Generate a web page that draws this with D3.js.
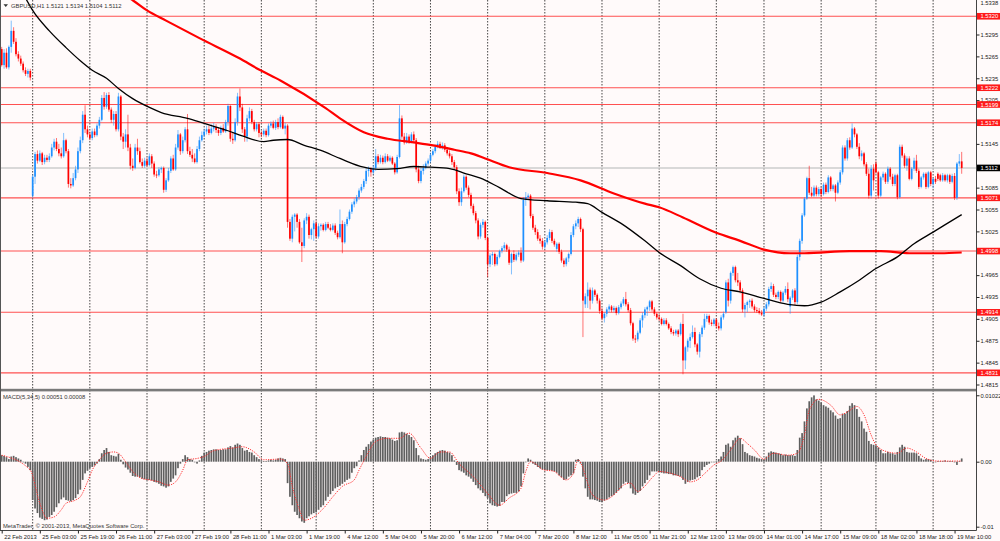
<!DOCTYPE html>
<html>
<head>
<meta charset="utf-8">
<script src="https://cdnjs.cloudflare.com/ajax/libs/d3/7.8.5/d3.min.js"></script>
<style>
    html, body { margin: 0; padding: 0; background: #fffafa; }
    svg { display: block; }
    text { font-family: "Liberation Sans", Arial, sans-serif; font-size: 5.8px; }
</style>
</head>
<body>
<script>
var width = 1000;
var height = 541;
var plotRight = 976.5;
var priceBottom = 388.5;
var macdTop = 391.5;
var macdBottom = 530.5;

// GBPUSD H1 candles
var opens = [
    1.5275,1.5253,1.5270,1.5250,1.5278,1.5300,1.5285,1.5268,1.5262,1.5255,
    1.5246,1.5241,1.5245,1.5074,1.5100,1.5131,1.5122,1.5132,1.5120,1.5126,
    1.5123,1.5128,1.5140,1.5148,1.5138,1.5132,1.5128,1.5150,1.5135,1.5090,
    1.5088,1.5098,1.5110,1.5135,1.5150,1.5185,1.5165,1.5158,1.5153,1.5162,
    1.5157,1.5170,1.5178,1.5208,1.5196,1.5212,1.5192,1.5178,1.5186,1.5165,
    1.5210,1.5155,1.5148,1.5158,1.5140,1.5115,1.5112,1.5140,1.5135,1.5120,
    1.5115,1.5122,1.5116,1.5128,1.5118,1.5103,1.5102,1.5110,1.5112,1.5082,
    1.5095,1.5108,1.5125,1.5110,1.5140,1.5158,1.5135,1.5150,1.5165,1.5135,
    1.5130,1.5125,1.5120,1.5138,1.5150,1.5157,1.5162,1.5165,1.5160,1.5166,
    1.5168,1.5164,1.5160,1.5167,1.5162,1.5175,1.5197,1.5152,1.5150,1.5175,
    1.5210,1.5195,1.5165,1.5155,1.5180,1.5190,1.5175,1.5165,1.5172,1.5160,
    1.5158,1.5163,1.5157,1.5170,1.5173,1.5167,1.5175,1.5168,1.5182,1.5166,
    1.5170,1.5038,1.5015,1.5045,1.5048,1.5038,1.5010,1.5005,1.5040,1.5045,
    1.5020,1.5028,1.5036,1.5018,1.5032,1.5034,1.5027,1.5035,1.5030,1.5027,
    1.5033,1.5023,1.5017,1.5035,1.5010,1.5035,1.5042,1.5052,1.5062,1.5066,
    1.5072,1.5081,1.5086,1.5094,1.5108,1.5110,1.5106,1.5112,1.5128,1.5120,
    1.5126,1.5120,1.5128,1.5122,1.5126,1.5118,1.5106,1.5127,1.5180,1.5155,
    1.5147,1.5155,1.5148,1.5158,1.5150,1.5110,1.5094,1.5108,1.5112,1.5118,
    1.5122,1.5130,1.5135,1.5141,1.5145,1.5140,1.5143,1.5137,1.5132,1.5128,
    1.5120,1.5113,1.5080,1.5065,1.5080,1.5100,1.5085,1.5075,1.5060,1.5050,
    1.5040,1.5018,1.5034,1.5038,1.5016,1.4980,1.4992,1.4994,1.4980,1.4990,
    1.4998,1.5002,1.5006,1.5000,1.4982,1.4994,1.4986,1.4993,1.4996,1.4985,
    1.5068,1.5072,1.5074,1.5046,1.5030,1.5024,1.5015,1.5012,1.5004,1.5010,
    1.5016,1.5024,1.5012,1.5001,1.5008,1.4997,1.4985,1.4980,1.4988,1.4994,
    1.5020,1.5032,1.5036,1.5042,1.5028,1.4925,1.4936,1.4945,1.4930,1.4944,
    1.4938,1.4930,1.4916,1.4906,1.4912,1.4918,1.4922,1.4917,1.4920,1.4913,
    1.4921,1.4926,1.4932,1.4925,1.4917,1.4899,1.4878,1.4877,1.4886,1.4903,
    1.4910,1.4918,1.4921,1.4929,1.4918,1.4912,1.4907,1.4905,1.4898,1.4903,
    1.4898,1.4892,1.4887,1.4885,1.4889,1.4884,1.4898,1.4848,1.4866,1.4875,
    1.4880,1.4887,1.4870,1.4860,1.4884,1.4893,1.4905,1.4909,1.4900,1.4898,
    1.4904,1.4895,1.4892,1.4907,1.4914,1.4955,1.4930,1.4968,1.4976,1.4958,
    1.4955,1.4944,1.4918,1.4924,1.4928,1.4930,1.4922,1.4917,1.4916,1.4913,
    1.4911,1.4919,1.4925,1.4946,1.4950,1.4938,1.4935,1.4942,1.4930,1.4941,
    1.4946,1.4922,1.4934,1.4944,1.4928,1.4990,1.5012,1.5047,1.5070,1.5098,
    1.5078,1.5074,1.5085,1.5076,1.5083,1.5076,1.5089,1.5079,1.5099,1.5083,
    1.5088,1.5078,1.5092,1.5106,1.5140,1.5125,1.5150,1.5140,1.5166,1.5158,
    1.5141,1.5128,1.5132,1.5117,1.5104,1.5074,1.5111,1.5118,1.5106,1.5074,
    1.5099,1.5104,1.5093,1.5111,1.5100,1.5090,1.5102,1.5072,1.5141,1.5129,
    1.5115,1.5125,1.5097,1.5111,1.5122,1.5108,1.5086,1.5099,1.5104,1.5086,
    1.5106,1.5090,1.5097,1.5104,1.5102,1.5095,1.5102,1.5095,1.5102,1.5093,
    1.5101,1.5071,1.5118,1.5121
];
var highs = [
    1.5278,1.5275,1.5276,1.5280,1.5314,1.5305,1.5290,1.5272,1.5266,1.5258,
    1.5250,1.5248,1.5248,1.5103,1.5134,1.5136,1.5136,1.5134,1.5130,1.5130,
    1.5132,1.5145,1.5152,1.5153,1.5145,1.5140,1.5160,1.5152,1.5138,1.5098,
    1.5105,1.5115,1.5140,1.5155,1.5190,1.5198,1.5170,1.5162,1.5166,1.5166,
    1.5173,1.5182,1.5212,1.5216,1.5215,1.5216,1.5195,1.5190,1.5190,1.5215,
    1.5212,1.5160,1.5165,1.5185,1.5145,1.5125,1.5145,1.5152,1.5140,1.5125,
    1.5126,1.5126,1.5132,1.5131,1.5121,1.5108,1.5113,1.5114,1.5114,1.5098,
    1.5112,1.5128,1.5130,1.5145,1.5164,1.5160,1.5155,1.5168,1.5186,1.5141,
    1.5138,1.5132,1.5142,1.5155,1.5162,1.5166,1.5170,1.5170,1.5172,1.5174,
    1.5172,1.5168,1.5170,1.5172,1.5178,1.5200,1.5198,1.5160,1.5180,1.5215,
    1.5221,1.5200,1.5168,1.5185,1.5195,1.5193,1.5178,1.5175,1.5175,1.5163,
    1.5166,1.5166,1.5173,1.5176,1.5177,1.5178,1.5180,1.5185,1.5184,1.5174,
    1.5172,1.5042,1.5048,1.5050,1.5050,1.5042,1.5030,1.5043,1.5050,1.5048,
    1.5030,1.5040,1.5040,1.5036,1.5036,1.5036,1.5038,1.5038,1.5035,1.5036,
    1.5036,1.5026,1.5055,1.5040,1.5038,1.5045,1.5055,1.5065,1.5070,1.5075,
    1.5084,1.5090,1.5097,1.5112,1.5114,1.5113,1.5116,1.5138,1.5131,1.5130,
    1.5129,1.5132,1.5131,1.5129,1.5128,1.5120,1.5130,1.5198,1.5184,1.5160,
    1.5160,1.5158,1.5161,1.5162,1.5153,1.5115,1.5112,1.5117,1.5121,1.5125,
    1.5133,1.5138,1.5144,1.5149,1.5148,1.5147,1.5146,1.5140,1.5136,1.5131,
    1.5123,1.5116,1.5084,1.5085,1.5103,1.5102,1.5088,1.5078,1.5063,1.5053,
    1.5043,1.5037,1.5042,1.5040,1.5018,1.4995,1.4997,1.4996,1.4993,1.5000,
    1.5005,1.5010,1.5008,1.5004,1.4996,1.4999,1.4996,1.4999,1.5003,1.5072,
    1.5079,1.5077,1.5076,1.5049,1.5034,1.5028,1.5020,1.5016,1.5013,1.5020,
    1.5028,1.5027,1.5015,1.5010,1.5010,1.5000,1.4988,1.4990,1.4996,1.5024,
    1.5035,1.5040,1.5045,1.5044,1.5030,1.4940,1.4955,1.4948,1.4948,1.4946,
    1.4940,1.4933,1.4920,1.4914,1.4921,1.4925,1.4924,1.4923,1.4922,1.4924,
    1.4929,1.4935,1.4942,1.4928,1.4920,1.4901,1.4883,1.4889,1.4906,1.4914,
    1.4921,1.4923,1.4931,1.4931,1.4921,1.4914,1.4912,1.4907,1.4906,1.4906,
    1.4900,1.4895,1.4890,1.4891,1.4891,1.4900,1.4912,1.4868,1.4878,1.4885,
    1.4896,1.4893,1.4872,1.4887,1.4896,1.4912,1.4912,1.4911,1.4904,1.4906,
    1.4906,1.4900,1.4910,1.4915,1.4958,1.4960,1.4970,1.4978,1.4978,1.4968,
    1.4958,1.4947,1.4927,1.4930,1.4932,1.4933,1.4925,1.4921,1.4920,1.4917,
    1.4922,1.4928,1.4949,1.4955,1.4953,1.4941,1.4944,1.4944,1.4943,1.4950,
    1.4955,1.4936,1.4946,1.4947,1.4993,1.5015,1.5050,1.5072,1.5100,1.5115,
    1.5086,1.5088,1.5088,1.5086,1.5086,1.5092,1.5092,1.5102,1.5101,1.5090,
    1.5090,1.5095,1.5109,1.5143,1.5143,1.5153,1.5154,1.5173,1.5168,1.5160,
    1.5146,1.5136,1.5134,1.5120,1.5111,1.5116,1.5117,1.5122,1.5108,1.5101,
    1.5107,1.5106,1.5114,1.5113,1.5104,1.5104,1.5104,1.5144,1.5144,1.5132,
    1.5128,1.5128,1.5113,1.5126,1.5130,1.5111,1.5101,1.5106,1.5106,1.5108,
    1.5108,1.5099,1.5101,1.5106,1.5104,1.5105,1.5104,1.5104,1.5104,1.5104,
    1.5105,1.5120,1.5131,1.5134
];
var lows = [
    1.5251,1.5248,1.5248,1.5247,1.5270,1.5282,1.5265,1.5258,1.5252,1.5243,
    1.5238,1.5236,1.5232,1.5071,1.5090,1.5118,1.5120,1.5116,1.5117,1.5120,
    1.5120,1.5126,1.5136,1.5135,1.5128,1.5125,1.5126,1.5132,1.5085,1.5084,
    1.5086,1.5095,1.5105,1.5132,1.5146,1.5160,1.5154,1.5150,1.5150,1.5154,
    1.5155,1.5166,1.5176,1.5192,1.5193,1.5189,1.5174,1.5170,1.5162,1.5162,
    1.5150,1.5138,1.5140,1.5135,1.5110,1.5108,1.5110,1.5130,1.5118,1.5112,
    1.5112,1.5113,1.5114,1.5112,1.5100,1.5098,1.5100,1.5105,1.5078,1.5079,
    1.5093,1.5105,1.5108,1.5108,1.5137,1.5130,1.5132,1.5147,1.5131,1.5127,
    1.5120,1.5118,1.5118,1.5135,1.5148,1.5154,1.5158,1.5157,1.5158,1.5162,
    1.5160,1.5156,1.5157,1.5160,1.5160,1.5170,1.5148,1.5145,1.5148,1.5170,
    1.5190,1.5160,1.5148,1.5148,1.5176,1.5172,1.5162,1.5162,1.5154,1.5154,
    1.5155,1.5154,1.5155,1.5167,1.5165,1.5164,1.5165,1.5166,1.5165,1.5158,
    1.5030,1.5012,1.5010,1.5025,1.5030,1.5008,1.4983,1.5002,1.5035,1.5015,
    1.5014,1.5012,1.5015,1.5015,1.5026,1.5025,1.5025,1.5028,1.5025,1.5025,
    1.5020,1.5014,1.5015,1.4995,1.5008,1.5032,1.5040,1.5049,1.5058,1.5063,
    1.5068,1.5078,1.5083,1.5090,1.5100,1.5100,1.5103,1.5108,1.5117,1.5118,
    1.5117,1.5118,1.5120,1.5120,1.5116,1.5103,1.5104,1.5125,1.5152,1.5144,
    1.5145,1.5145,1.5146,1.5146,1.5106,1.5091,1.5091,1.5103,1.5110,1.5115,
    1.5119,1.5128,1.5132,1.5139,1.5138,1.5137,1.5134,1.5129,1.5125,1.5116,
    1.5110,1.5076,1.5060,1.5060,1.5078,1.5082,1.5072,1.5056,1.5047,1.5036,
    1.5014,1.5015,1.5030,1.5013,1.4962,1.4976,1.4979,1.4977,1.4978,1.4988,
    1.4995,1.4999,1.4997,1.4979,1.4966,1.4983,1.4984,1.4990,1.4982,1.4983,
    1.5060,1.5068,1.5043,1.5027,1.5020,1.5012,1.5008,1.5000,1.5001,1.5007,
    1.5013,1.5009,1.5004,1.4997,1.4994,1.4982,1.4976,1.4977,1.4983,1.4992,
    1.5017,1.5028,1.5031,1.5024,1.4880,1.4920,1.4920,1.4918,1.4926,1.4935,
    1.4926,1.4912,1.4903,1.4900,1.4908,1.4914,1.4914,1.4914,1.4910,1.4911,
    1.4918,1.4923,1.4922,1.4914,1.4896,1.4875,1.4872,1.4874,1.4884,1.4893,
    1.4906,1.4909,1.4916,1.4915,1.4909,1.4904,1.4902,1.4896,1.4896,1.4896,
    1.4890,1.4884,1.4882,1.4882,1.4880,1.4882,1.4829,1.4836,1.4860,1.4865,
    1.4878,1.4866,1.4856,1.4852,1.4880,1.4890,1.4901,1.4897,1.4895,1.4895,
    1.4892,1.4889,1.4889,1.4904,1.4912,1.4922,1.4926,1.4964,1.4955,1.4950,
    1.4940,1.4914,1.4907,1.4914,1.4920,1.4919,1.4914,1.4913,1.4911,1.4909,
    1.4908,1.4916,1.4922,1.4942,1.4935,1.4932,1.4932,1.4927,1.4928,1.4938,
    1.4928,1.4912,1.4931,1.4924,1.4925,1.4985,1.5008,1.5045,1.5068,1.5075,
    1.5072,1.5072,1.5073,1.5073,1.5072,1.5074,1.5076,1.5077,1.5080,1.5080,
    1.5066,1.5076,1.5089,1.5103,1.5122,1.5122,1.5137,1.5138,1.5154,1.5138,
    1.5124,1.5122,1.5114,1.5101,1.5070,1.5070,1.5081,1.5104,1.5070,1.5072,
    1.5095,1.5090,1.5090,1.5096,1.5087,1.5087,1.5069,1.5070,1.5126,1.5112,
    1.5108,1.5095,1.5095,1.5108,1.5105,1.5083,1.5084,1.5096,1.5083,1.5084,
    1.5087,1.5084,1.5090,1.5094,1.5093,1.5093,1.5093,1.5092,1.5090,1.5091,
    1.5068,1.5068,1.5114,1.5104
];
var closes = [
    1.5253,1.5270,1.5250,1.5278,1.5300,1.5285,1.5268,1.5262,1.5255,1.5246,
    1.5241,1.5245,1.5236,1.5100,1.5131,1.5122,1.5132,1.5120,1.5126,1.5123,
    1.5128,1.5140,1.5148,1.5138,1.5132,1.5128,1.5150,1.5135,1.5090,1.5088,
    1.5098,1.5110,1.5135,1.5150,1.5185,1.5165,1.5158,1.5153,1.5162,1.5157,
    1.5170,1.5178,1.5208,1.5196,1.5212,1.5192,1.5178,1.5186,1.5165,1.5210,
    1.5155,1.5148,1.5158,1.5140,1.5115,1.5112,1.5140,1.5135,1.5120,1.5115,
    1.5122,1.5116,1.5128,1.5118,1.5103,1.5102,1.5110,1.5112,1.5082,1.5095,
    1.5108,1.5125,1.5110,1.5140,1.5158,1.5135,1.5150,1.5165,1.5135,1.5130,
    1.5125,1.5120,1.5138,1.5150,1.5157,1.5162,1.5165,1.5160,1.5166,1.5168,
    1.5164,1.5160,1.5167,1.5162,1.5175,1.5197,1.5152,1.5150,1.5175,1.5210,
    1.5195,1.5165,1.5155,1.5180,1.5190,1.5175,1.5165,1.5172,1.5160,1.5158,
    1.5163,1.5157,1.5170,1.5173,1.5167,1.5175,1.5168,1.5182,1.5166,1.5170,
    1.5038,1.5015,1.5045,1.5048,1.5038,1.5010,1.5005,1.5040,1.5045,1.5020,
    1.5028,1.5036,1.5018,1.5032,1.5034,1.5027,1.5035,1.5030,1.5027,1.5033,
    1.5023,1.5017,1.5035,1.5010,1.5035,1.5042,1.5052,1.5062,1.5066,1.5072,
    1.5081,1.5086,1.5094,1.5108,1.5110,1.5106,1.5112,1.5128,1.5120,1.5126,
    1.5120,1.5128,1.5122,1.5126,1.5118,1.5106,1.5127,1.5180,1.5155,1.5147,
    1.5155,1.5148,1.5158,1.5150,1.5110,1.5094,1.5108,1.5112,1.5118,1.5122,
    1.5130,1.5135,1.5141,1.5145,1.5140,1.5143,1.5137,1.5132,1.5128,1.5120,
    1.5113,1.5080,1.5065,1.5080,1.5100,1.5085,1.5075,1.5060,1.5050,1.5040,
    1.5018,1.5034,1.5038,1.5016,1.4980,1.4992,1.4994,1.4980,1.4990,1.4998,
    1.5002,1.5006,1.5000,1.4982,1.4994,1.4986,1.4993,1.4996,1.4985,1.5068,
    1.5072,1.5074,1.5046,1.5030,1.5024,1.5015,1.5012,1.5004,1.5010,1.5016,
    1.5024,1.5012,1.5007,1.5008,1.4997,1.4985,1.4980,1.4988,1.4994,1.5020,
    1.5032,1.5036,1.5042,1.5028,1.4930,1.4936,1.4945,1.4930,1.4944,1.4938,
    1.4930,1.4916,1.4906,1.4912,1.4918,1.4922,1.4917,1.4920,1.4913,1.4921,
    1.4926,1.4932,1.4925,1.4917,1.4899,1.4878,1.4877,1.4886,1.4903,1.4910,
    1.4918,1.4921,1.4929,1.4918,1.4912,1.4907,1.4905,1.4898,1.4903,1.4898,
    1.4892,1.4887,1.4885,1.4889,1.4884,1.4898,1.4848,1.4866,1.4875,1.4880,
    1.4887,1.4870,1.4860,1.4884,1.4893,1.4905,1.4909,1.4900,1.4898,1.4904,
    1.4895,1.4892,1.4907,1.4912,1.4955,1.4930,1.4968,1.4976,1.4958,1.4955,
    1.4944,1.4918,1.4924,1.4928,1.4930,1.4922,1.4917,1.4916,1.4913,1.4911,
    1.4919,1.4925,1.4946,1.4950,1.4938,1.4935,1.4942,1.4930,1.4941,1.4946,
    1.4932,1.4934,1.4944,1.4928,1.4990,1.5012,1.5047,1.5070,1.5098,1.5078,
    1.5074,1.5085,1.5076,1.5083,1.5076,1.5089,1.5079,1.5099,1.5083,1.5088,
    1.5078,1.5092,1.5106,1.5140,1.5125,1.5150,1.5140,1.5166,1.5158,1.5141,
    1.5128,1.5132,1.5117,1.5104,1.5074,1.5111,1.5095,1.5106,1.5074,1.5099,
    1.5104,1.5093,1.5111,1.5100,1.5090,1.5102,1.5072,1.5141,1.5129,1.5115,
    1.5125,1.5097,1.5111,1.5122,1.5108,1.5086,1.5099,1.5104,1.5086,1.5106,
    1.5090,1.5097,1.5093,1.5097,1.5095,1.5102,1.5095,1.5102,1.5093,1.5101,
    1.5071,1.5118,1.5121,1.5112
];

// MACD(5,34,5) main histogram, one value per bar
var macd = [
    0.0010,0.0009,0.0007,0.0004,0.0008,0.0009,0.0007,0.0005,0.0003,-0.0001,
    -0.0003,-0.0008,-0.0013,-0.0059,-0.0072,-0.0079,-0.0086,-0.0088,-0.0090,-0.0089,
    -0.0085,-0.0082,-0.0077,-0.0070,-0.0064,-0.0058,-0.0055,-0.0059,-0.0060,-0.0061,
    -0.0059,-0.0056,-0.0050,-0.0043,-0.0028,-0.0018,-0.0014,-0.0010,-0.0008,-0.0006,
    -0.0003,0.0004,0.0013,0.0018,0.0021,0.0015,0.0010,0.0009,0.0008,0.0012,
    0.0003,-0.0004,-0.0009,-0.0012,-0.0017,-0.0022,-0.0023,-0.0023,-0.0024,-0.0026,
    -0.0027,-0.0028,-0.0028,-0.0029,-0.0031,-0.0032,-0.0034,-0.0037,-0.0038,-0.0040,
    -0.0038,-0.0031,-0.0026,-0.0021,-0.0010,-0.0003,0.0004,0.0010,0.0007,0.0004,
    0.0003,0.0000,-0.0003,0.0002,0.0009,0.0014,0.0015,0.0017,0.0018,0.0019,
    0.0019,0.0018,0.0018,0.0019,0.0019,0.0022,0.0024,0.0022,0.0026,0.0028,
    0.0026,0.0021,0.0017,0.0018,0.0015,0.0014,0.0010,0.0007,0.0004,0.0002,
    0.0001,0.0001,0.0002,0.0003,0.0002,0.0003,0.0005,0.0006,0.0005,0.0004,
    -0.0033,-0.0054,-0.0067,-0.0077,-0.0082,-0.0087,-0.0092,-0.0094,-0.0087,-0.0084,
    -0.0081,-0.0079,-0.0078,-0.0074,-0.0070,-0.0067,-0.0060,-0.0054,-0.0050,-0.0045,
    -0.0041,-0.0039,-0.0037,-0.0034,-0.0031,-0.0028,-0.0026,-0.0017,-0.0010,-0.0007,
    0.0002,0.0010,0.0018,0.0023,0.0027,0.0031,0.0034,0.0037,0.0038,0.0039,
    0.0038,0.0038,0.0037,0.0036,0.0034,0.0032,0.0033,0.0045,0.0046,0.0045,
    0.0043,0.0041,0.0038,0.0033,0.0021,0.0010,0.0005,0.0004,0.0003,0.0004,
    0.0007,0.0010,0.0013,0.0015,0.0017,0.0018,0.0017,0.0015,0.0014,0.0010,
    0.0002,-0.0005,-0.0013,-0.0015,-0.0017,-0.0021,-0.0023,-0.0026,-0.0031,-0.0036,
    -0.0041,-0.0044,-0.0048,-0.0053,-0.0056,-0.0064,-0.0067,-0.0068,-0.0069,-0.0068,
    -0.0062,-0.0062,-0.0053,-0.0050,-0.0049,-0.0048,-0.0048,-0.0046,-0.0038,-0.0018,
    0.0000,0.0005,0.0003,-0.0003,-0.0005,-0.0008,-0.0010,-0.0012,-0.0013,-0.0013,
    -0.0013,-0.0014,-0.0015,-0.0017,-0.0021,-0.0024,-0.0028,-0.0027,-0.0023,-0.0021,
    -0.0018,0.0003,0.0004,-0.0003,-0.0023,-0.0041,-0.0054,-0.0058,-0.0058,-0.0059,
    -0.0060,-0.0062,-0.0062,-0.0060,-0.0058,-0.0055,-0.0053,-0.0051,-0.0048,-0.0044,
    -0.0041,-0.0034,-0.0031,-0.0033,-0.0041,-0.0049,-0.0051,-0.0048,-0.0045,-0.0038,
    -0.0033,-0.0028,-0.0021,-0.0015,-0.0015,-0.0015,-0.0016,-0.0017,-0.0018,-0.0018,
    -0.0019,-0.0019,-0.0021,-0.0021,-0.0022,-0.0023,-0.0028,-0.0034,-0.0031,-0.0029,
    -0.0028,-0.0027,-0.0024,-0.0022,-0.0013,-0.0008,-0.0005,-0.0003,-0.0001,-0.0001,
    0.0001,0.0004,0.0008,0.0015,0.0026,0.0028,0.0023,0.0033,0.0037,0.0040,
    0.0036,0.0027,0.0015,0.0013,0.0010,0.0009,0.0008,0.0006,0.0005,0.0004,
    0.0003,0.0008,0.0014,0.0016,0.0015,0.0014,0.0013,0.0012,0.0010,0.0011,
    0.0010,0.0010,0.0010,0.0009,0.0018,0.0037,0.0044,0.0062,0.0082,0.0093,
    0.0099,0.0102,0.0096,0.0094,0.0091,0.0087,0.0085,0.0083,0.0079,0.0076,
    0.0071,0.0066,0.0067,0.0074,0.0074,0.0078,0.0086,0.0090,0.0087,0.0081,
    0.0069,0.0062,0.0051,0.0046,0.0032,0.0027,0.0026,0.0025,0.0022,0.0018,
    0.0013,0.0013,0.0015,0.0013,0.0013,0.0011,0.0015,0.0022,0.0026,0.0023,
    0.0015,0.0014,0.0014,0.0014,0.0013,0.0009,0.0005,0.0003,0.0004,0.0004,
    0.0003,0.0000,-0.0001,0.0001,0.0001,0.0001,0.0002,0.0001,0.0001,0.0001,
    -0.0001,-0.0005,0.0001,0.0005
];

// MACD signal line, sampled points (bar index, value)
var signalIdx = [0,12,16,19,22,25,27,31,33,36,38,41,44,47,49,52,55,59,62,66,
    70,73,76,78,82,85,89,97,101,106,110,117,120,122,125,127,131,135,139,143,
    148,150,153,157,162,167,171,176,180,184,188,192,198,204,209,213,218,220,222,224,
    227,232,234,237,240,242,244,246,248,253,257,261,264,267,269,274,276,281,285,289,
    292,296,299,302,306,310,313,316,320,324,330,334,337,339,343,348,352,356,359,362,
    365,367,372,376,380,384,388,393,398,403];
var signalVal = [0.0010,-0.0013,-0.0064,-0.0087,-0.0085,-0.0074,-0.0064,-0.0059,-0.0054,-0.0031,
    -0.0013,0.0003,0.0013,0.0015,0.0013,0.0000,-0.0015,-0.0026,-0.0028,-0.0031,
    -0.0036,-0.0031,-0.0013,0.0003,0.0005,0.0008,0.0017,0.0021,0.0023,0.0015,
    0.0003,0.0004,-0.0003,-0.0038,-0.0074,-0.0090,-0.0085,-0.0072,-0.0054,-0.0038,
    -0.0028,-0.0013,0.0008,0.0031,0.0036,0.0036,0.0044,0.0021,0.0005,0.0015,
    0.0015,-0.0003,-0.0023,-0.0049,-0.0067,-0.0056,-0.0041,-0.0015,0.0000,-0.0003,
    -0.0012,-0.0015,-0.0021,-0.0028,-0.0018,0.0003,-0.0010,-0.0033,-0.0051,-0.0059,
    -0.0051,-0.0036,-0.0033,-0.0046,-0.0041,-0.0021,-0.0015,-0.0018,-0.0023,-0.0031,
    -0.0028,-0.0015,-0.0005,0.0001,0.0018,0.0036,0.0028,0.0018,0.0004,0.0013,
    0.0010,0.0013,0.0041,0.0079,0.0096,0.0087,0.0072,0.0079,0.0085,0.0072,
    0.0041,0.0026,0.0015,0.0013,0.0021,0.0015,0.0005,0.0001,0.0001,0.0001];

// moving averages, sampled points (bar index, price)
var maBlackIdx = [10,13,20,27,33,38,44,49,55,62,67,78,85,95,101,110,114,120,127,134,
    142,152,158,166,173,180,188,195,201,209,218,229,241,246,252,260,270,276,285,293,
    302,310,320,330,337,344,352,360,367,376,383,391,403];
var maBlackVal = [1.5345,1.5328,1.5300,1.5277,1.5259,1.5246,1.5235,1.5221,1.5207,1.5195,
    1.5188,1.5180,1.5173,1.5163,1.5156,1.5148,1.5150,1.5151,1.5143,1.5136,
    1.5125,1.5113,1.5110,1.5111,1.5114,1.5113,1.5111,1.5104,1.5098,1.5085,
    1.5070,1.5067,1.5065,1.5063,1.5051,1.5036,1.5012,1.4996,1.4978,1.4960,
    1.4947,1.4942,1.4933,1.4925,1.4923,1.4928,1.4942,1.4958,1.4974,1.4990,
    1.5008,1.5024,1.5048];
var maRedIdx = [50,55,61,69,83,100,108,117,136,142,152,162,173,181,190,197,203,213,229,243,
    257,270,276,286,300,310,320,331,337,356,369,381,394,403];
var maRedVal = [1.5352,1.5342,1.5328,1.5314,1.5290,1.5262,1.5247,1.5232,1.5194,1.5180,
    1.5161,1.5152,1.5147,1.5143,1.5137,1.5132,1.5125,1.5113,1.5105,1.5095,
    1.5077,1.5063,1.5058,1.5044,1.5023,1.5012,1.5000,1.4995,1.4995,1.4998,
    1.4998,1.4995,1.4995,1.4996];

var levels = [1.5320, 1.5222, 1.5199, 1.5174, 1.5071, 1.4998, 1.4914, 1.4831];
var bid = 1.5112;
var topPrice = 1.5338;
var priceTicks = [1.5295, 1.5265, 1.5235, 1.5205, 1.5145, 1.5085, 1.5055, 1.5025,
    1.4965, 1.4935, 1.4905, 1.4875, 1.4845, 1.4815];
var macdTicks = [0.01022, 0, -0.01];
var macdTickLabels = ["0.01022", "0.00", "-0.01"];

// first bar of each day (grid), and time axis labels
var dayIdx = [13, 37, 61, 85, 109, 132, 156, 180, 204, 228, 252, 276, 300, 320, 344, 367, 391];
var timeIdx = [0, 16, 32, 48, 64, 80, 96, 112, 128, 144, 160, 176, 192, 208, 224, 240,
    256, 272, 288, 304, 320, 336, 352, 368, 384, 400];
var timeLabels = ["22 Feb 2013", "25 Feb 03:00", "25 Feb 19:00", "26 Feb 11:00", "27 Feb 03:00",
    "27 Feb 19:00", "28 Feb 11:00", "1 Mar 03:00", "1 Mar 19:00", "4 Mar 12:00", "5 Mar 04:00",
    "5 Mar 20:00", "6 Mar 12:00", "7 Mar 04:00", "7 Mar 20:00", "8 Mar 12:00", "11 Mar 05:00",
    "11 Mar 21:00", "12 Mar 13:00", "13 Mar 09:00", "14 Mar 01:00", "14 Mar 17:00",
    "15 Mar 09:00", "18 Mar 02:00", "18 Mar 18:00", "19 Mar 10:00"];

var bull = "#1e90ff";
var bear = "#ff0000";

var x = d3.scaleLinear().domain([0, closes.length - 1]).range([1.7, 961.7]);
var y = d3.scaleLinear().domain([1.4815, 1.5295]).range([384.5, 34.5]);
var ym = d3.scaleLinear().domain([-0.01, 0.01]).range([526.7, 396.7]);

var svg = d3.select("body").append("svg")
    .attr("width", width)
    .attr("height", height);

svg.append("rect")
    .attr("width", width)
    .attr("height", height)
    .attr("fill", "#fffafa");

var defs = svg.append("defs");
defs.append("clipPath").attr("id", "clip_price").append("rect")
    .attr("x", 0).attr("y", 0)
    .attr("width", plotRight).attr("height", priceBottom);
defs.append("clipPath").attr("id", "clip_macd").append("rect")
    .attr("x", 0).attr("y", macdTop)
    .attr("width", plotRight).attr("height", macdBottom - macdTop);

var bars = d3.range(closes.length);

// day grid, both panels
svg.append("g").selectAll("line")
    .data(dayIdx)
    .enter().append("line")
    .attr("x1", function (d) { return x(d); })
    .attr("x2", function (d) { return x(d); })
    .attr("y1", 0)
    .attr("y2", macdBottom)
    .style("stroke", "#333333")
    .style("stroke-width", 0.9)
    .style("stroke-dasharray", "1.5,1.5");

var pg = svg.append("g").attr("clip-path", "url(#clip_price)");

// horizontal levels and bid line
pg.selectAll(".level")
    .data(levels)
    .enter().append("line")
    .attr("class", "level")
    .attr("x1", 0).attr("x2", plotRight)
    .attr("y1", function (d) { return y(d); })
    .attr("y2", function (d) { return y(d); })
    .style("stroke", "#ff5050")
    .style("stroke-width", 1.1);

pg.append("line")
    .attr("x1", 0).attr("x2", plotRight)
    .attr("y1", y(bid)).attr("y2", y(bid))
    .style("stroke", "#cccccc")
    .style("stroke-width", 1.4);

// candles
pg.selectAll(".wick")
    .data(bars)
    .enter().append("line")
    .attr("class", "wick")
    .attr("x1", function (d) { return x(d); })
    .attr("x2", function (d) { return x(d); })
    .attr("y1", function (d) { return y(highs[d]); })
    .attr("y2", function (d) { return y(lows[d]); })
    .style("stroke", function (d) { return closes[d] >= opens[d] ? bull : bear; })
    .style("stroke-opacity", 0.55)
    .style("stroke-width", 1);

pg.selectAll(".body")
    .data(bars)
    .enter().append("rect")
    .attr("class", "body")
    .attr("x", function (d) { return x(d) - 0.85; })
    .attr("width", 1.7)
    .attr("y", function (d) { return y(Math.max(opens[d], closes[d])); })
    .attr("height", function (d) {
        return Math.max(1, Math.abs(y(opens[d]) - y(closes[d])));
    })
    .style("fill", function (d) { return closes[d] >= opens[d] ? bull : bear; });

// moving averages
var maLine = function (idx, val) {
    return d3.line()
        .x(function (d) { return x(idx[d]); })
        .y(function (d) { return y(val[d]); })
        .curve(d3.curveMonotoneX)(d3.range(idx.length));
};

pg.append("path")
    .attr("d", maLine(maRedIdx, maRedVal))
    .style("fill", "none")
    .style("stroke", "#ff0000")
    .style("stroke-width", 2.2);

pg.append("path")
    .attr("d", maLine(maBlackIdx, maBlackVal))
    .style("fill", "none")
    .style("stroke", "#000000")
    .style("stroke-width", 1.3);

// MACD panel
var mg = svg.append("g").attr("clip-path", "url(#clip_macd)");

mg.selectAll(".hist")
    .data(bars)
    .enter().append("rect")
    .attr("class", "hist")
    .attr("x", function (d) { return x(d) - 0.85; })
    .attr("width", 1.7)
    .attr("y", function (d) { return Math.min(ym(0), ym(macd[d])); })
    .attr("height", function (d) { return Math.max(0.6, Math.abs(ym(macd[d]) - ym(0))); })
    .style("fill", "#5f5f5f");

mg.append("path")
    .attr("d", d3.line()
        .x(function (d) { return x(signalIdx[d]); })
        .y(function (d) { return ym(signalVal[d]); })
        .curve(d3.curveMonotoneX)(d3.range(signalIdx.length)))
    .style("fill", "none")
    .style("stroke", "#ff3030")
    .style("stroke-width", 1)
    .style("stroke-dasharray", "1.2,1.2");

// panel separator and frame
svg.append("rect")
    .attr("x", 0).attr("y", priceBottom + 0.3)
    .attr("width", plotRight).attr("height", 2.6)
    .attr("fill", "#7a7a7a");

svg.append("line")
    .attr("x1", 0.5).attr("x2", 0.5)
    .attr("y1", 0).attr("y2", macdBottom)
    .style("stroke", "#555").style("stroke-width", 1);

svg.append("line")
    .attr("x1", plotRight).attr("x2", plotRight)
    .attr("y1", 0).attr("y2", macdBottom)
    .style("stroke", "#444").style("stroke-width", 1);

svg.append("line")
    .attr("x1", 0).attr("x2", plotRight)
    .attr("y1", macdBottom).attr("y2", macdBottom)
    .style("stroke", "#444").style("stroke-width", 1);

// axes
var priceAxis = d3.axisRight(y)
    .tickValues(priceTicks)
    .tickFormat(d3.format(".4f"))
    .tickSize(3)
    .tickPadding(1);

var gPrice = svg.append("g")
    .attr("transform", "translate(" + plotRight + ",0)")
    .call(priceAxis)
    .attr("font-size", null)
    .attr("font-family", null)
    .attr("color", "#222");
gPrice.select(".domain").remove();

svg.append("text")
    .attr("x", plotRight + 4)
    .attr("y", y(topPrice) + 2)
    .attr("fill", "#222")
    .text(d3.format(".4f")(topPrice));

var macdAxis = d3.axisRight(ym)
    .tickValues(macdTicks)
    .tickFormat(function (d, i) { return macdTickLabels[i]; })
    .tickSize(3)
    .tickPadding(1);

var gMacd = svg.append("g")
    .attr("transform", "translate(" + plotRight + ",0)")
    .call(macdAxis)
    .attr("font-size", null)
    .attr("font-family", null)
    .attr("color", "#222");
gMacd.select(".domain").remove();

var timeAxis = d3.axisBottom(x)
    .tickValues(timeIdx)
    .tickFormat(function (d, i) { return timeLabels[i]; })
    .tickSize(3)
    .tickPadding(1);

var gTime = svg.append("g")
    .attr("transform", "translate(0," + macdBottom + ")")
    .call(timeAxis)
    .attr("font-size", null)
    .attr("font-family", null)
    .attr("color", "#222");
gTime.select(".domain").remove();
gTime.selectAll(".tick text")
    .attr("text-anchor", "start")
    .attr("x", 2);

// level price labels
var tags = svg.append("g");
tags.selectAll("rect")
    .data(levels)
    .enter().append("rect")
    .attr("x", plotRight + 0.5)
    .attr("width", width - plotRight)
    .attr("y", function (d) { return y(d) - 3.3; })
    .attr("height", 6.6)
    .attr("fill", "#ff1a1a");
tags.selectAll("text")
    .data(levels)
    .enter().append("text")
    .attr("x", plotRight + 4)
    .attr("y", function (d) { return y(d) + 2; })
    .attr("fill", "#ffffff")
    .text(function (d) { return d3.format(".4f")(d); });

svg.append("rect")
    .attr("x", plotRight + 0.5)
    .attr("width", width - plotRight)
    .attr("y", y(bid) - 3.3)
    .attr("height", 6.6)
    .attr("fill", "#000000");
svg.append("text")
    .attr("x", plotRight + 4)
    .attr("y", y(bid) + 2)
    .attr("fill", "#ffffff")
    .text(d3.format(".4f")(bid));

// titles
svg.append("path")
    .attr("d", "M3.5,4.2 L8,4.2 L5.75,7 Z")
    .attr("fill", "#333");
svg.append("text")
    .attr("x", 11)
    .attr("y", 8)
    .attr("fill", "#333")
    .text("GBPUSD,H1  1.5121 1.5134 1.5104 1.5112");

svg.append("text")
    .attr("x", 3)
    .attr("y", macdTop + 7)
    .attr("fill", "#333")
    .text("MACD(5,34,5) 0.00051 0.00008");

svg.append("text")
    .attr("x", 3)
    .attr("y", macdBottom - 2.5)
    .attr("fill", "#333")
    .text("MetaTrader, \u00a9 2001-2013, MetaQuotes Software Corp.");
</script>
</body>
</html>
